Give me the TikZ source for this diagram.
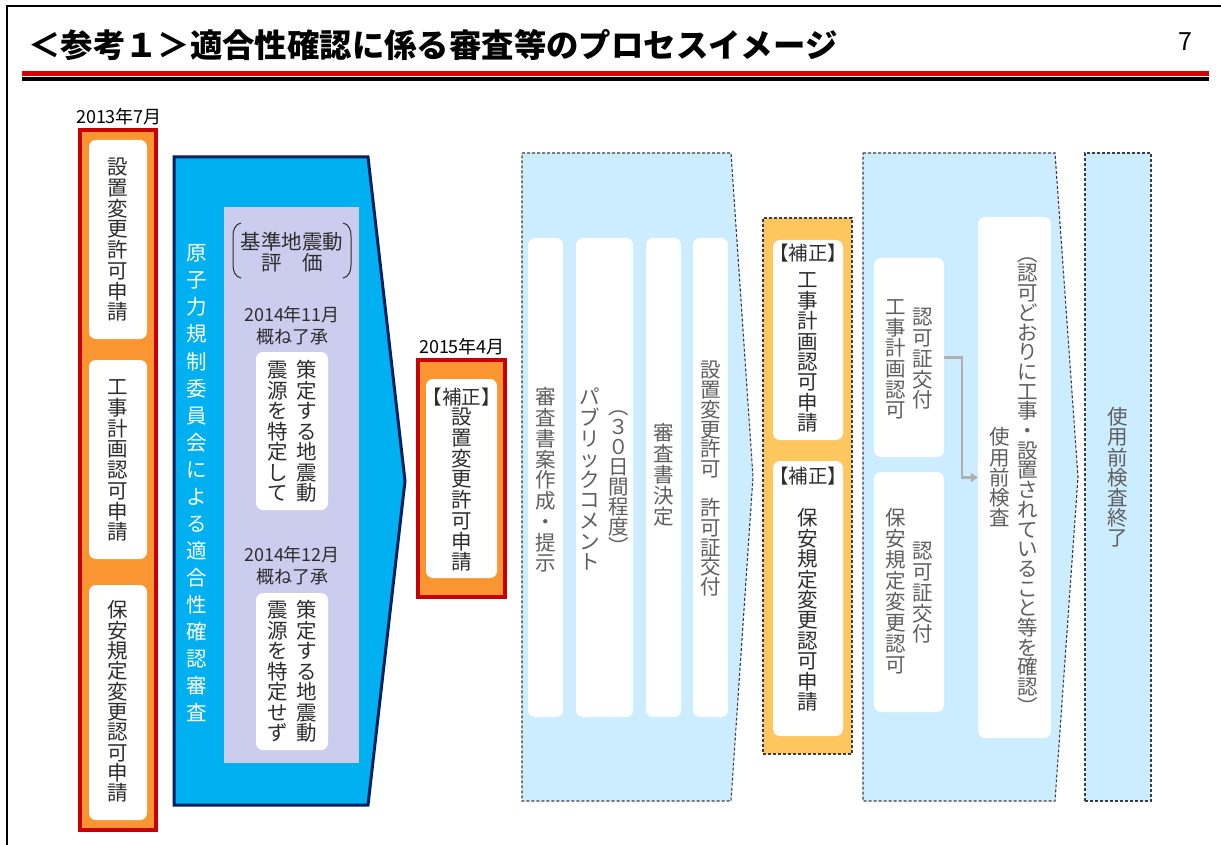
\documentclass[tikz,border=0pt]{standalone}
\usepackage{fontspec}
\setmainfont{Noto Sans CJK JP}
\usetikzlibrary{arrows.meta}
\definecolor{myorange}{RGB}{250,150,50}
\definecolor{myred}{RGB}{200,0,0}
\definecolor{myblue}{RGB}{0,176,240}
\definecolor{mynavy}{RGB}{0,32,96}
\definecolor{mylav}{RGB}{204,204,238}
\definecolor{mylblue}{RGB}{204,236,255}
\definecolor{mylorange}{RGB}{253,198,95}
\definecolor{dashgray}{RGB}{60,60,70}
\definecolor{txtgray}{RGB}{95,95,95}
\definecolor{txtdark}{RGB}{45,45,45}
\definecolor{arrgray}{RGB}{175,175,175}
\definecolor{titlered}{RGB}{215,0,0}
\makeatletter
\newcommand\vstk[2]{\vbox{\baselineskip=#1\relax\lineskip=0pt\lineskiplimit=-\maxdimen
 \@tfor\vs@c:=#2\do{\hbox to 1em{\hss\vrule height .88em depth .12em width 0pt\vs@c\hss}}}}
\makeatother
\tikzset{
 whitebox/.style={fill=white, rounded corners=7pt, inner sep=0pt},
 obar/.style={fill=myorange, draw=myred, line width=4pt, inner sep=0pt},
 lavbox/.style={fill=mylav, inner sep=0pt},
 dashbox/.style={draw=dashgray, line width=1.1pt, dash pattern=on 3pt off 2pt, inner sep=0pt},
 vtxt/.style={inner sep=0pt, font=\fontsize{20.5}{21}\selectfont},
 dtxt/.style={inner sep=0pt, font=\fontsize{18}{22}\selectfont, align=center},
 hosei/.style={inner sep=0pt, font=\fontsize{19.5}{20}\selectfont},
 garrow/.style={draw=arrgray, line width=2.5pt, -{Triangle[length=7pt,width=9pt]}},
}
\begin{document}
\begin{tikzpicture}[x=1pt,y=-1pt]
\useasboundingbox (0,0) rectangle (1221,845);
% frame and title
\draw[line width=2pt] (7,845) -- (7,6) -- (1221,6);
\node[anchor=west, inner sep=0pt, font=\fontsize{32.4}{33}\selectfont\bfseries] (title) at (28,45) {＜参考１＞適合性確認に係る審査等のプロセスイメージ};
\node[inner sep=0pt, font=\fontsize{25}{25}\selectfont] (page) at (1185,42) {7};
\fill[titlered] (22,71) rectangle (1209,76);
\fill[black] (22,77) rectangle (1209,81);

% left column
\node[dtxt] (d2013) at (119,117) {2013年7月};
\node[obar, minimum width=76pt, minimum height=700pt] (colL) at (118,480) {};
\node[whitebox, minimum width=58pt, minimum height=199pt] (L1) at (118,239.5) {};
\node[whitebox, minimum width=58pt, minimum height=199pt] (L2) at (118,459.5) {};
\node[whitebox, minimum width=58pt, minimum height=235pt] (L3) at (118,702.5) {};
\node[vtxt, text=txtdark] (L1t) at (118,239.5) {\vstk{20.7pt}{設置変更許可申請}};
\node[vtxt, text=txtdark] (L2t) at (118,459.5) {\vstk{20.7pt}{工事計画認可申請}};
\node[vtxt, text=txtdark] (L3t) at (118,701.5) {\vstk{20.3pt}{保安規定変更認可申請}};

% blue pentagon
\draw[fill=myblue, draw=mynavy, line width=3pt, line join=miter] (174,157) -- (368,157) -- (405,481) -- (368,805) -- (174,805) -- cycle;
\node[vtxt, text=white] (blueT) at (197,483) {\vstk{27.06pt}{原子力規制委員会による適合性確認審査}};
\node[lavbox, minimum width=135pt, minimum height=556pt] (lav) at (291.5,485) {};
\node[inner sep=0pt, align=center, font=\fontsize{20.5}{21}\selectfont, text=txtdark] (kijun) at (292,252.5) {基準地震動\\評　価};
\draw[line width=1pt, txtdark] (241,223) to[out=190,in=90] (233,236) -- (233,265) to[out=-90,in=170] (241,278);
\draw[line width=1pt, txtdark] (343,223) to[out=-10,in=90] (351,236) -- (351,265) to[out=-90,in=10] (343,278);
\node[dtxt, text=txtdark] (d1411) at (292,326) {2014年11月\\概ね了承};
\node[whitebox, minimum width=72pt, minimum height=158pt] (W1) at (292,431) {};
\node[vtxt, text=txtdark] (W1a) at (307,431.5) {\vstk{20.5pt}{策定する地震動}};
\node[vtxt, text=txtdark] (W1b) at (278,431.5) {\vstk{20.5pt}{震源を特定して}};
\node[dtxt, text=txtdark] (d1412) at (292,566) {2014年12月\\概ね了承};
\node[whitebox, minimum width=72pt, minimum height=157pt] (W2) at (292,671.5) {};
\node[vtxt, text=txtdark] (W2a) at (307,671.5) {\vstk{20.5pt}{策定する地震動}};
\node[vtxt, text=txtdark] (W2b) at (278,671.5) {\vstk{20.5pt}{震源を特定せず}};

% middle orange
\node[dtxt] (d2015) at (462,347) {2015年4月};
\node[obar, minimum width=87pt, minimum height=237pt] (colM) at (461.5,478.5) {};
\node[whitebox, minimum width=71pt, minimum height=199pt] (M1) at (461.5,478.5) {};
\node[hosei, text=txtdark] (M1h) at (461.5,397) {【補正】};
\node[vtxt, text=txtdark] (M1t) at (461.5,489.5) {\vstk{20.7pt}{設置変更許可申請}};

% pentagon 1
\draw[dashbox, fill=mylblue] (522,153) -- (731,153) -- (753,477) -- (731,801) -- (522,801) -- cycle;
\node[whitebox, minimum width=35pt, minimum height=479pt] (S1) at (545.5,477.5) {};
\node[whitebox, minimum width=57pt, minimum height=479pt] (S2) at (604.5,477.5) {};
\node[whitebox, minimum width=35pt, minimum height=479pt] (S3) at (663.5,477.5) {};
\node[whitebox, minimum width=35pt, minimum height=479pt] (S4) at (710.5,477.5) {};
\node[vtxt, text=txtgray] (S1t) at (545.5,480) {\vstk{20.75pt}{審査書案作成・提示}};
\node[vtxt, text=txtgray] (S2a) at (590,479.5) {\vstk{20.6pt}{パブリックコメント}};
\node[vtxt, text=txtgray] (S2b) at (619,477) {\vstk{20pt}{︵３０日間程度︶}};
\node[vtxt, text=txtgray] (S3t) at (663.5,475) {\vstk{21pt}{審査書決定}};
\node[vtxt, text=txtgray] (S4t) at (710.5,478.5) {\vstk{19.7pt}{設置変更許可　許可証交付}};

% light orange dashed column
\node[dashbox, fill=mylorange, minimum width=89pt, minimum height=536pt] (colO) at (807.5,486) {};
\node[whitebox, minimum width=70pt, minimum height=200pt] (O1) at (808,340) {};
\node[whitebox, minimum width=70pt, minimum height=275pt] (O2) at (808,598.5) {};
\node[hosei, text=txtdark] (O1h) at (808,253) {【補正】};
\node[vtxt, text=txtdark] (O1t) at (808,351.5) {\vstk{20.4pt}{工事計画認可申請}};
\node[hosei, text=txtdark] (O2h) at (808,476) {【補正】};
\node[vtxt, text=txtdark] (O2t) at (808,610) {\vstk{20.4pt}{保安規定変更認可申請}};

% pentagon 2
\draw[dashbox, fill=mylblue] (863,153) -- (1055,153) -- (1078,477) -- (1055,801) -- (863,801) -- cycle;
\node[whitebox, minimum width=70pt, minimum height=199pt] (A) at (909,357.5) {};
\node[whitebox, minimum width=70pt, minimum height=240pt] (B) at (909,592) {};
\node[whitebox, minimum width=73pt, minimum height=521pt] (C) at (1014.5,477.5) {};
\node[vtxt, text=txtgray] (Aa) at (923,358.5) {\vstk{20.75pt}{認可証交付}};
\node[vtxt, text=txtgray] (Ab) at (896,358.5) {\vstk{20.6pt}{工事計画認可}};
\node[vtxt, text=txtgray] (Ba) at (923,592.5) {\vstk{20.75pt}{認可証交付}};
\node[vtxt, text=txtgray] (Bb) at (896,591.5) {\vstk{21pt}{保安規定変更認可}};
\node[vtxt, text=txtgray] (Ca) at (1028,480) {\vstk{19.7pt}{︵認可どおりに工事・設置されていること等を確認︶}};
\node[vtxt, text=txtgray] (Cb) at (1000,477.5) {\vstk{20.25pt}{使用前検査}};
\draw[garrow] (A.east) -- ++(18,0) |- (C.west);

% final column
\node[dashbox, fill=mylblue, minimum width=66pt, minimum height=648pt] (E) at (1118,477) {};
\node[vtxt, text=txtgray] (Et) at (1118,477.5) {\vstk{20.2pt}{使用前検査終了}};
\end{tikzpicture}
\end{document}
